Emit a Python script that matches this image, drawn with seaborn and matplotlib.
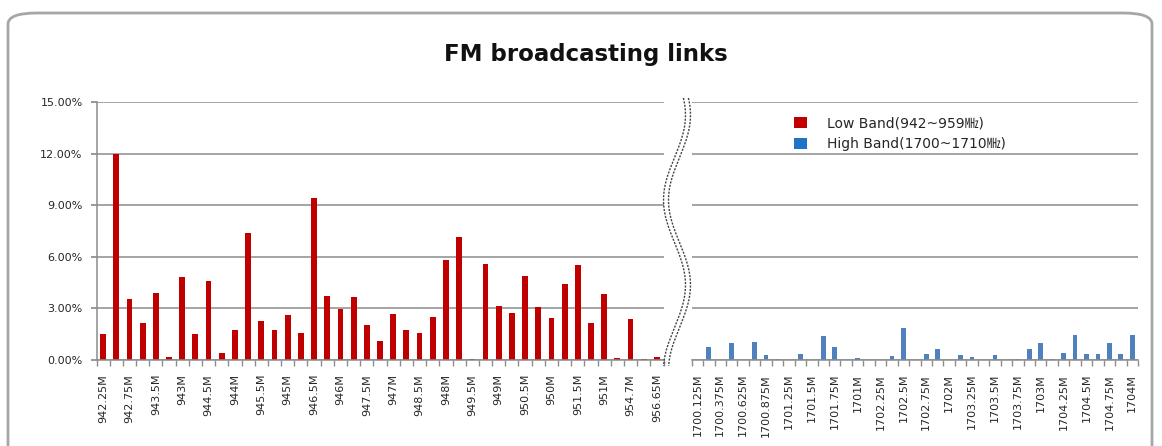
import numpy as np
import pandas as pd
import matplotlib.pyplot as plt
import seaborn as sns
from matplotlib.patches import FancyBboxPatch, Patch
from matplotlib.lines import Line2D

# Data (share of links, %)
low_labels = ["942.25M", "942.75M", "943.5M", "943M", "944.5M", "944M", "945.5M", "945M",
              "946.5M", "946M", "947.5M", "947M", "948.5M", "948M", "949.5M", "949M",
              "950.5M", "950M", "951.5M", "951M", "954.7M", "956.65M"]
low_values = [1.50, 12.0, 3.55, 2.16, 3.88, 0.18, 4.85, 1.50, 4.60, 0.39, 1.73, 7.40,
              2.28, 1.73, 2.61, 1.56, 9.39, 3.70, 2.98, 3.66, 2.05, 1.11, 2.67, 1.73,
              1.56, 2.49, 5.81, 7.13, 0.08, 5.59, 3.16, 2.71, 4.91, 3.10, 2.44, 4.42,
              5.53, 2.16, 3.82, 0.14, 2.38, 0.08, 0.18]

high_labels = ["1700.125M", "1700.375M", "1700.625M", "1700.875M", "1701.25M", "1701.5M",
               "1701.75M", "1701M", "1702.25M", "1702.5M", "1702.75M", "1702M",
               "1703.25M", "1703.5M", "1703.75M", "1703M", "1704.25M", "1704.5M",
               "1704.75M", "1704M"]
high_values = [0, 0.74, 0, 0.99, 0, 1.04, 0.29, 0.08, 0, 0.35, 0, 1.37, 0.74, 0,
               0.12, 0, 0, 0.23, 1.86, 0, 0.35, 0.62, 0, 0.29, 0.17, 0, 0.29, 0,
               0.08, 0.62, 1.00, 0.08, 0.41, 1.43, 0.35, 0.35, 0.97, 0.35, 1.43]

y_ticks = [0, 3, 6, 9, 12, 15]

low_df = pd.DataFrame({"pos": range(len(low_values)), "share": low_values})
high_df = pd.DataFrame({"pos": range(len(high_values)), "share": high_values})

sns.set_theme(style="white")
plt.rcParams['font.family'] = ['DejaVu Sans', 'Noto Sans CJK KR']

W, H = 1162, 446
fig = plt.figure(figsize=(W / 100, H / 100), dpi=100)

# chart area border
fig.patches.append(FancyBboxPatch((8 / W, -0.1), (1152 - 8) / W, (1 - 13 / H) + 0.1,
                                  boxstyle="round,pad=0,rounding_size=0.025",
                                  transform=fig.transFigure, fill=False,
                                  edgecolor="#a6a6a6", linewidth=2.0))

ax1 = fig.add_axes([96.5 / W, 1 - 360 / H, 567 / W, 258 / H])
ax2 = fig.add_axes([691.7 / W, 1 - 360 / H, 446.3 / W, 258 / H])

sns.barplot(data=low_df, x="pos", y="share", ax=ax1, color="#c00000", width=0.44,
            saturation=1, linewidth=0)
sns.barplot(data=high_df, x="pos", y="share", ax=ax2, color="#4f81bd", width=0.42,
            saturation=1, linewidth=0)

grid_c = "#8c8c8c"
for ax, n, labels in [(ax1, len(low_values), low_labels), (ax2, len(high_values), high_labels)]:
    ax.set_xlim(-0.5, n - 0.5)
    ax.set_ylim(0, 15)
    ax.set_yticks(y_ticks)
    ax.yaxis.grid(True, color=grid_c, linewidth=1.1)
    ax.set_axisbelow(True)
    ax.set_xlabel("")
    ax.set_ylabel("")
    ax.set_xticks(range(0, n, 2))
    ax.set_xticklabels(labels, rotation=90, fontsize=8, va="top")
    ax.set_xticks(np.arange(-0.5, n, 1), minor=True)
    ax.tick_params(axis="x", which="major", length=0, pad=10)
    ax.tick_params(axis="x", which="minor", length=4, color=grid_c, width=1, bottom=True)
    for s in ["top", "right"]:
        ax.spines[s].set_visible(False)
    ax.spines["bottom"].set_color(grid_c)
    ax.spines["bottom"].set_linewidth(1.1)
    ax.patch.set_alpha(0)

ax1.spines["left"].set_color(grid_c)
ax1.spines["left"].set_linewidth(1.1)
ax1.set_yticklabels([f"{v:.2f}%" for v in y_ticks], fontsize=8)
ax1.tick_params(axis="y", length=4, color=grid_c, left=True, pad=6)
ax2.spines["left"].set_visible(False)
ax2.set_yticklabels([])
ax2.tick_params(axis="y", length=0)

fig.text(586 / W, 1 - 55 / H, "FM broadcasting links", ha="center", va="center",
         fontsize=16.5, fontweight="bold", color="#111111")

# axis break marks
yy = np.linspace(98, 366, 200)
xx = 677 - 11 * np.cos(2 * np.pi * (yy - 200) / 170)
for off in (-2.5, 2.5):
    fig.add_artist(Line2D((xx + off) / W, 1 - yy / H, transform=fig.transFigure,
                          color="#444444", linewidth=1, linestyle=(0, (1.5, 1))))

handles = [Patch(facecolor="#c00000", edgecolor="none"),
           Patch(facecolor="#1f74c8", edgecolor="none")]
fig.legend(handles, ["Low Band(942~959㎒)", "High Band(1700~1710㎒)"],
           loc="upper left", bbox_to_anchor=(781 / W, 1 - 104 / H), frameon=False,
           fontsize=10, handlelength=1.0, handleheight=0.8, handletextpad=1.4,
           labelspacing=0.5)

fig.savefig("out.png", dpi=100)
